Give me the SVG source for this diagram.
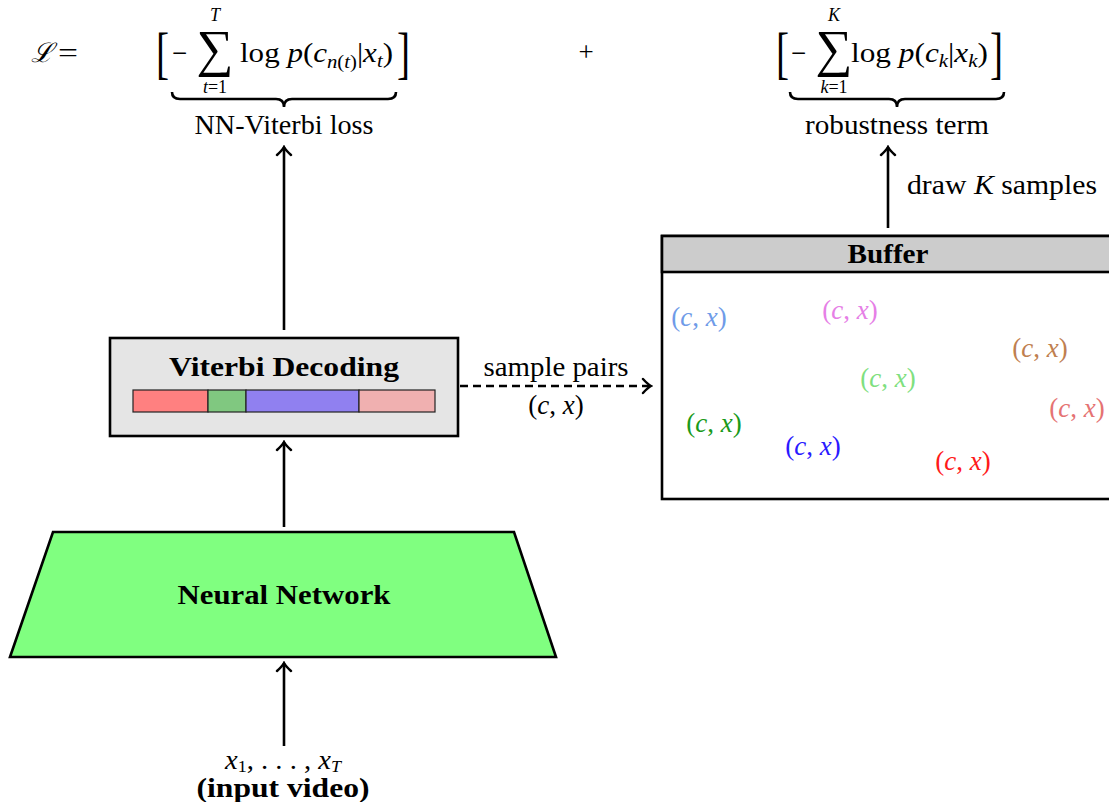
<svg xmlns="http://www.w3.org/2000/svg" width="1109" height="802" viewBox="0 0 1109 802" font-family="'Liberation Serif', serif">
<style>
text{font-family:"Liberation Serif",serif;font-size:27px;fill:#000}
.it{font-style:italic}
.b{font-weight:bold}
.sm{font-size:18px}
.big{font-size:56px}
.sig{font-size:52px}
.c{text-anchor:middle}
.ln{stroke:#000;stroke-width:2.6;fill:none}
.box{stroke:#000;stroke-width:2.6}
</style>
<defs>
<marker id="ah" viewBox="-10 -9 12 18" markerWidth="12" markerHeight="18" refX="0" refY="0" orient="auto" markerUnits="userSpaceOnUse">
<path d="M-8,-7 Q-3,-1.5 0,0 Q-3,1.5 -8,7" fill="none" stroke="#000" stroke-width="2.4" stroke-linecap="round"/>
</marker>
</defs>

<g id="loss-formula">
<text x="31" y="62" class="it">ℒ</text>
<text x="58" y="62" textLength="20" lengthAdjust="spacingAndGlyphs">=</text>
<text x="156" y="72" class="big" transform="translate(156 0) scale(0.7 1) translate(-156 0)">[</text>
<text x="172" y="62">−</text>
<text x="215" y="21" class="it sm c">T</text>
<text x="215" y="66" class="sig c">∑</text>
<text x="215" y="93" class="sm c"><tspan class="it">t</tspan>=1</text>
<text x="240" y="62" textLength="153" lengthAdjust="spacingAndGlyphs">log <tspan class="it">p</tspan>(<tspan class="it">c</tspan><tspan class="it" font-size="18" dy="6">n</tspan><tspan font-size="18">(</tspan><tspan class="it" font-size="18">t</tspan><tspan font-size="18">)</tspan><tspan dy="-6">|</tspan><tspan class="it">x</tspan><tspan class="it" font-size="18" dy="5">t</tspan><tspan dy="-5">)</tspan></text>
<text x="397" y="72" class="big" transform="translate(397 0) scale(0.7 1) translate(-397 0)">]</text>
<path class="ln" d="M172,92 q0,7 8,7 L276,99 q8,0 8,8 q0,-8 8,-8 L388,99 q8,0 8,-7"/>
<text x="284" y="134" class="c" textLength="179" lengthAdjust="spacingAndGlyphs">NN-Viterbi loss</text>
</g>

<g id="plus">
<text x="586" y="61" class="c">+</text>
</g>

<g id="robust-formula">
<text x="776" y="72" class="big" transform="translate(776 0) scale(0.7 1) translate(-776 0)">[</text>
<text x="791" y="62">−</text>
<text x="834" y="21" class="it sm c">K</text>
<text x="834" y="66" class="sig c">∑</text>
<text x="834" y="93" class="sm c"><tspan class="it">k</tspan>=1</text>
<text x="851" y="62" textLength="137" lengthAdjust="spacingAndGlyphs">log <tspan class="it">p</tspan>(<tspan class="it">c</tspan><tspan class="it" font-size="18" dy="5">k</tspan><tspan dy="-5">|</tspan><tspan class="it">x</tspan><tspan class="it" font-size="18" dy="5">k</tspan><tspan dy="-5">)</tspan></text>
<text x="990" y="72" class="big" transform="translate(990 0) scale(0.7 1) translate(-990 0)">]</text>
<path class="ln" d="M790,92 q0,7 8,7 L889,99 q8,0 8,8 q0,-8 8,-8 L996,99 q8,0 8,-7"/>
<text x="897" y="134" class="c" textLength="184" lengthAdjust="spacingAndGlyphs">robustness term</text>
</g>

<g id="connectors">
<line class="ln" x1="284" y1="746" x2="284" y2="663" marker-end="url(#ah)"/>
<line class="ln" x1="284" y1="527" x2="284" y2="442" marker-end="url(#ah)"/>
<line class="ln" x1="284" y1="330" x2="284" y2="147" marker-end="url(#ah)"/>
<line class="ln" x1="888" y1="228" x2="888" y2="147" marker-end="url(#ah)"/>
<line class="ln" x1="460" y1="386" x2="651" y2="386" stroke-dasharray="8,5" marker-end="url(#ah)"/>
<text x="556" y="376" class="c" textLength="145" lengthAdjust="spacingAndGlyphs">sample pairs</text>
<text x="556" y="414" class="c">(<tspan class="it">c</tspan>, <tspan class="it">x</tspan>)</text>
<text x="907" y="194" textLength="190" lengthAdjust="spacingAndGlyphs">draw <tspan class="it">K</tspan> samples</text>
</g>

<g id="viterbi">
<rect class="box" x="110" y="338" width="348" height="98" fill="#e5e5e5"/>
<text x="284" y="376" class="b c" textLength="230" lengthAdjust="spacingAndGlyphs">Viterbi Decoding</text>
<rect x="133" y="390" width="75" height="22" fill="#ff8080" stroke="#222" stroke-width="1.2"/>
<rect x="208" y="390" width="38" height="22" fill="#80c880" stroke="#222" stroke-width="1.2"/>
<rect x="246" y="390" width="113" height="22" fill="#9080f0" stroke="#222" stroke-width="1.2"/>
<rect x="359" y="390" width="76" height="22" fill="#f0b0b0" stroke="#222" stroke-width="1.2"/>
</g>

<g id="neural-network">
<polygon class="box" points="53,532 514,532 556,657 10,657" fill="#80ff80"/>
<text x="284" y="604" class="b c" textLength="213" lengthAdjust="spacingAndGlyphs">Neural Network</text>
</g>

<g id="input">
<text x="283" y="769" class="c" textLength="116" lengthAdjust="spacingAndGlyphs"><tspan class="it">x</tspan><tspan font-size="17" dy="3">1</tspan><tspan dy="-3">, . . . , </tspan><tspan class="it">x</tspan><tspan class="it" font-size="17" dy="3">T</tspan></text>
<text x="283" y="797" class="b c" textLength="173" lengthAdjust="spacingAndGlyphs">(input video)</text>
</g>

<g id="buffer">
<rect class="box" x="662" y="236" width="470" height="263" fill="#fff" stroke-width="3"/>
<rect class="box" x="662" y="236" width="470" height="36" fill="#cccccc" stroke-width="3"/>
<text x="888" y="263" class="b c" textLength="81" lengthAdjust="spacingAndGlyphs">Buffer</text>
<text x="699" y="326" class="c" style="fill:#6f9be8">(<tspan class="it">c</tspan>, <tspan class="it">x</tspan>)</text>
<text x="850" y="319" class="c" style="fill:#e67fe6">(<tspan class="it">c</tspan>, <tspan class="it">x</tspan>)</text>
<text x="1040" y="357" class="c" style="fill:#bf8050">(<tspan class="it">c</tspan>, <tspan class="it">x</tspan>)</text>
<text x="888" y="387" class="c" style="fill:#7fe07f">(<tspan class="it">c</tspan>, <tspan class="it">x</tspan>)</text>
<text x="714" y="432" class="c" style="fill:#1a9a1a">(<tspan class="it">c</tspan>, <tspan class="it">x</tspan>)</text>
<text x="1077" y="417" class="c" style="fill:#e57373">(<tspan class="it">c</tspan>, <tspan class="it">x</tspan>)</text>
<text x="813" y="455" class="c" style="fill:#2a1aff">(<tspan class="it">c</tspan>, <tspan class="it">x</tspan>)</text>
<text x="963" y="470" class="c" style="fill:#ff1a1a">(<tspan class="it">c</tspan>, <tspan class="it">x</tspan>)</text>
</g>
</svg>
